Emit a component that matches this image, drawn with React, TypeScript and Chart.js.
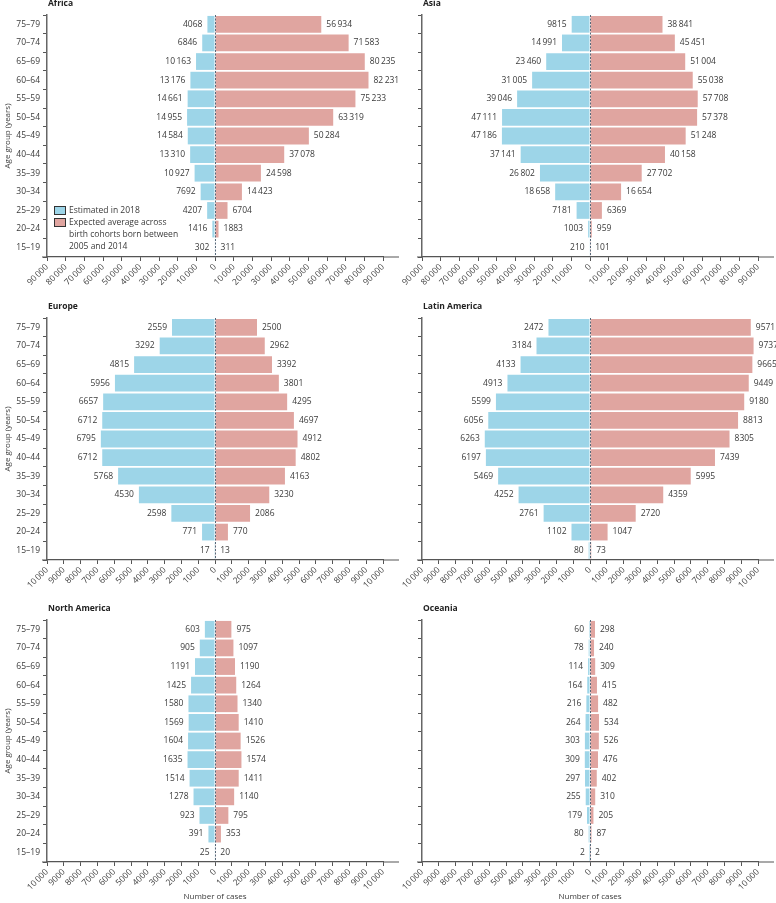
import React, { useEffect, useRef } from "react";
import { Chart, registerables } from "chart.js";

Chart.register(...registerables);

// ---------- Data ----------
const AGE_GROUPS = ["75–79", "70–74", "65–69", "60–64", "55–59", "50–54", "45–49", "40–44", "35–39", "30–34", "25–29", "20–24", "15–19"];

const SERIES_LABELS = ["Estimated in 2018", "Expected average across birth cohorts born between 2005 and 2014"];
const LEGEND_LINES = ["Expected average across", "birth cohorts born between", "2005 and 2014"];

const AFRICA_EST = [4068, 6846, 10163, 13176, 14661, 14955, 14584, 13310, 10927, 7692, 4207, 1416, 302];
const AFRICA_EXP = [56934, 71583, 80235, 82231, 75233, 63319, 50284, 37078, 24598, 14423, 6704, 1883, 311];

const ASIA_EST = [9815, 14991, 23460, 31005, 39046, 47111, 47186, 37141, 26802, 18658, 7181, 1003, 210];
const ASIA_EXP = [38841, 45451, 51004, 55038, 57708, 57378, 51248, 40158, 27702, 16654, 6369, 959, 101];

const EUROPE_EST = [2559, 3292, 4815, 5956, 6657, 6712, 6795, 6712, 5768, 4530, 2598, 771, 17];
const EUROPE_EXP = [2500, 2962, 3392, 3801, 4295, 4697, 4912, 4802, 4163, 3230, 2086, 770, 13];

const LATAM_EST = [2472, 3184, 4133, 4913, 5599, 6056, 6263, 6197, 5469, 4252, 2761, 1102, 80];
const LATAM_EXP = [9571, 9737, 9665, 9449, 9180, 8813, 8305, 7439, 5995, 4359, 2720, 1047, 73];

const NAMERICA_EST = [603, 905, 1191, 1425, 1580, 1569, 1604, 1635, 1514, 1278, 923, 391, 25];
const NAMERICA_EXP = [975, 1097, 1190, 1264, 1340, 1410, 1526, 1574, 1411, 1140, 795, 353, 20];

const OCEANIA_EST = [60, 78, 114, 164, 216, 264, 303, 309, 297, 255, 179, 80, 2];
const OCEANIA_EXP = [298, 240, 309, 415, 482, 534, 526, 476, 402, 310, 205, 87, 2];

const LARGE_AXIS_MAX = 90000;
const LARGE_AXIS_STEP = 10000;
const SMALL_AXIS_MAX = 10000;
const SMALL_AXIS_STEP = 1000;

// ---------- Styles / layout ----------
const BLUE = "#9dd5e8";
const PINK = "#e0a5a0";
const TEXT = "#3a3a3a";
const FONT = "'Open Sans', 'DejaVu Sans', sans-serif";

const ROW_TOP = [0, 290, 600];
const ROW_H = [290, 310, 303];
const ROW_PAD_TOP = [15, 28, 20];
const ROW_XAXIS_H = [33, 40, 41];
const COL_LEFT = [0, 390];
const COL_W = [440, 386];
const COL_YAXIS_W = [47, 32];
const COL_PAD_RIGHT = [57, 18];

type Panel = {
  title: string;
  est: number[];
  exp: number[];
  max: number;
  step: number;
  row: number;
  col: number;
  legend?: boolean;
};

const PANELS: Panel[] = [
  { title: "Africa", est: AFRICA_EST, exp: AFRICA_EXP, max: LARGE_AXIS_MAX, step: LARGE_AXIS_STEP, row: 0, col: 0, legend: true },
  { title: "Asia", est: ASIA_EST, exp: ASIA_EXP, max: LARGE_AXIS_MAX, step: LARGE_AXIS_STEP, row: 0, col: 1 },
  { title: "Europe", est: EUROPE_EST, exp: EUROPE_EXP, max: SMALL_AXIS_MAX, step: SMALL_AXIS_STEP, row: 1, col: 0 },
  { title: "Latin America", est: LATAM_EST, exp: LATAM_EXP, max: SMALL_AXIS_MAX, step: SMALL_AXIS_STEP, row: 1, col: 1 },
  { title: "North America", est: NAMERICA_EST, exp: NAMERICA_EXP, max: SMALL_AXIS_MAX, step: SMALL_AXIS_STEP, row: 2, col: 0 },
  { title: "Oceania", est: OCEANIA_EST, exp: OCEANIA_EXP, max: SMALL_AXIS_MAX, step: SMALL_AXIS_STEP, row: 2, col: 1 },
];

function fmt(n: number): string {
  const s = String(Math.round(Math.abs(n)));
  return s.length >= 5 ? s.replace(/\B(?=(\d{3})+(?!\d))/g, "\u2009") : s;
}

function pyramidPlugin(panel: Panel) {
  return {
    id: "pyramidExtras",
    afterDatasetsDraw(chart: any) {
      const ctx = chart.ctx as CanvasRenderingContext2D;
      const area = chart.chartArea;
      const x0 = chart.scales.x.getPixelForValue(0);
      ctx.save();
      ctx.font = `8.5px ${FONT}`;
      ctx.fillStyle = TEXT;
      ctx.textBaseline = "middle";
      chart.getDatasetMeta(0).data.forEach((el: any, i: number) => {
        ctx.textAlign = "right";
        ctx.fillText(fmt(panel.est[i]), el.x - 5, el.y);
      });
      chart.getDatasetMeta(1).data.forEach((el: any, i: number) => {
        ctx.textAlign = "left";
        ctx.fillText(fmt(panel.exp[i]), el.x + 5, el.y);
      });
      // dashed zero line
      ctx.strokeStyle = "#56697a";
      ctx.lineWidth = 1;
      ctx.setLineDash([2, 1.5]);
      const xl = Math.round(x0) + 0.5;
      ctx.beginPath();
      ctx.moveTo(xl, area.top);
      ctx.lineTo(xl, area.bottom);
      ctx.stroke();
      ctx.restore();
    },
    afterDraw(chart: any) {
      const ctx = chart.ctx as CanvasRenderingContext2D;
      const area = chart.chartArea;
      ctx.save();
      // panel title
      ctx.font = `bold 8.5px ${FONT}`;
      ctx.fillStyle = "#222";
      ctx.textAlign = "left";
      ctx.textBaseline = "middle";
      ctx.fillText(panel.title, area.left + 1, area.top - 11);
      // extended x axis line
      ctx.strokeStyle = "#555";
      ctx.lineWidth = 1.2;
      ctx.beginPath();
      ctx.moveTo(area.left - 5, area.bottom);
      ctx.lineTo(area.left, area.bottom);
      ctx.moveTo(area.right, area.bottom);
      ctx.lineTo(area.right + 16, area.bottom);
      ctx.stroke();
      // legend
      if (panel.legend) {
        const bx = area.left + 7;
        const by1 = area.top + 191;
        const by2 = area.top + 203;
        ctx.lineWidth = 1;
        ctx.strokeStyle = "#333";
        ctx.fillStyle = BLUE;
        ctx.fillRect(bx, by1, 12, 9);
        ctx.strokeRect(bx + 0.5, by1 + 0.5, 11, 8);
        ctx.fillStyle = PINK;
        ctx.fillRect(bx, by2, 12, 9);
        ctx.strokeRect(bx + 0.5, by2 + 0.5, 11, 8);
        ctx.font = `8.5px ${FONT}`;
        ctx.fillStyle = TEXT;
        ctx.textAlign = "left";
        ctx.textBaseline = "middle";
        ctx.fillText(SERIES_LABELS[0], bx + 15, by1 + 5);
        LEGEND_LINES.forEach((line, i) => {
          ctx.fillText(line, bx + 15, by2 + 5 + i * 12);
        });
      }
      ctx.restore();
    },
  };
}

function PyramidChart({ panel }: { panel: Panel }) {
  const ref = useRef<HTMLCanvasElement | null>(null);
  const { row, col } = panel;
  useEffect(() => {
    const canvas = ref.current;
    if (!canvas) return;
    const showY = col === 0;
    const showXTitle = row === 2;
    const chart = new Chart(canvas, {
      type: "bar",
      data: {
        labels: AGE_GROUPS,
        datasets: [
          {
            label: SERIES_LABELS[0],
            data: panel.est.map((v) => -v),
            backgroundColor: BLUE,
            stack: "s",
            barPercentage: 0.9,
            categoryPercentage: 1,
          },
          {
            label: SERIES_LABELS[1],
            data: panel.exp,
            backgroundColor: PINK,
            stack: "s",
            barPercentage: 0.9,
            categoryPercentage: 1,
          },
        ],
      },
      options: {
        indexAxis: "y",
        responsive: false,
        animation: false,
        layout: { padding: { top: ROW_PAD_TOP[row], right: COL_PAD_RIGHT[col], left: 0, bottom: 0 } },
        plugins: { legend: { display: false }, tooltip: { enabled: false } },
        scales: {
          x: {
            type: "linear",
            stacked: true,
            min: -panel.max,
            max: panel.max,
            ticks: {
              stepSize: panel.step,
              autoSkip: false,
              maxRotation: 45,
              minRotation: 45,
              padding: 1,
              color: TEXT,
              font: { family: FONT, size: 8.5 },
              callback: (v: any) => fmt(Number(v)),
            },
            grid: { drawOnChartArea: false, drawTicks: true, tickLength: 4, color: "#555", lineWidth: 1 },
            border: { display: true, color: "#555", width: 1.2 },
            title: {
              display: showXTitle,
              text: "Number of cases",
              color: TEXT,
              font: { family: FONT, size: 8 },
              padding: { top: 0, bottom: 1 },
            },
            afterFit: (s: any) => {
              s.height = ROW_XAXIS_H[row];
            },
          },
          y: {
            type: "category",
            stacked: true,
            offset: true,
            ticks: {
              display: showY,
              autoSkip: false,
              color: TEXT,
              font: { family: FONT, size: 8.5 },
              padding: 3,
            },
            grid: { offset: true, drawOnChartArea: false, drawTicks: true, tickLength: 4, color: "#555", lineWidth: 1 },
            border: { display: true, color: "#666", width: 1.5 },
            title: {
              display: showY,
              text: "Age group (years)",
              color: TEXT,
              font: { family: FONT, size: 8 },
              padding: { top: 3, bottom: 0 },
            },
            afterFit: (s: any) => {
              s.width = COL_YAXIS_W[col];
            },
          },
        },
      } as any,
      plugins: [pyramidPlugin(panel)],
    });
    return () => chart.destroy();
  }, [panel]);

  return (
    <canvas
      ref={ref}
      width={COL_W[col]}
      height={ROW_H[row]}
      style={{
        position: "absolute",
        left: COL_LEFT[col],
        top: ROW_TOP[row],
        width: COL_W[col],
        height: ROW_H[row],
      }}
    />
  );
}

export default function App() {
  return (
    <div style={{ position: "absolute", left: 0, top: 0, width: 776, height: 903, background: "#fff", overflow: "hidden" }}>
      {PANELS.map((p) => (
        <PyramidChart key={p.title} panel={p} />
      ))}
    </div>
  );
}
